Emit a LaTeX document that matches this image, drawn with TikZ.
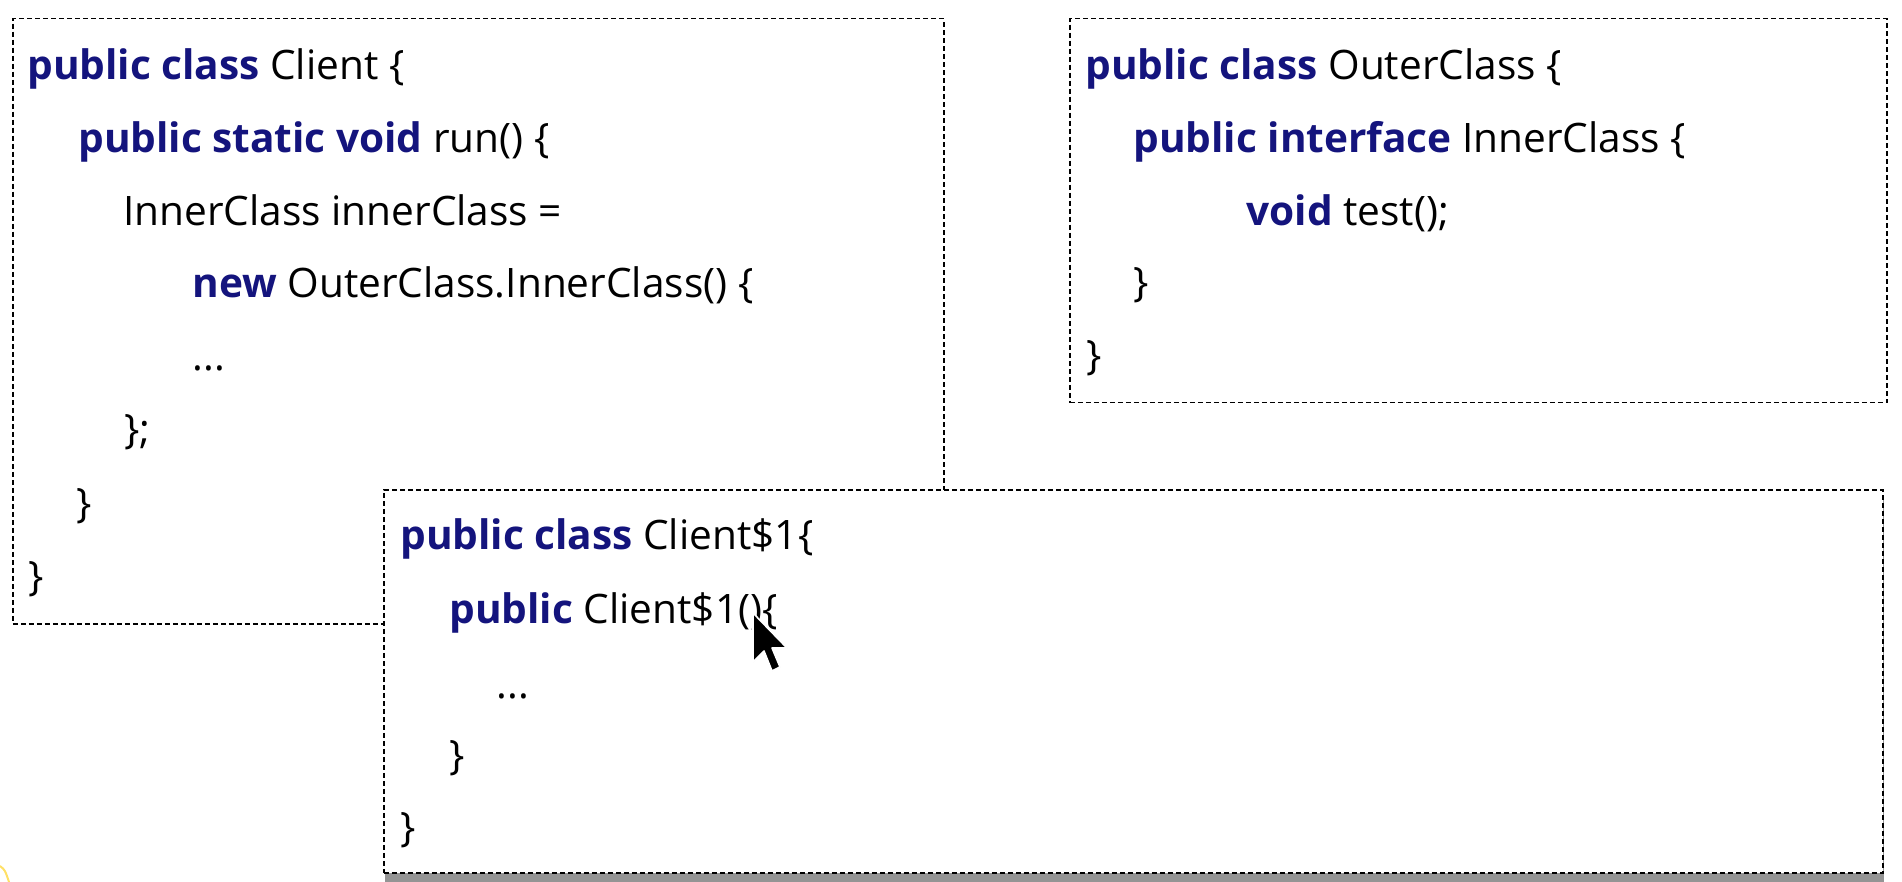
\documentclass[tikz,border=0pt]{standalone}
\usepackage{fontspec}
\setmainfont{Open Sans}
\usepackage{xcolor}
\usetikzlibrary{shadows,positioning}
\definecolor{kwblue}{RGB}{20,20,125}
\newcommand{\kw}[1]{\textbf{\color{kwblue}#1}}
\tikzset{code box/.style={draw,dashed,dash pattern=on 2.5pt off 1.5pt,line width=0.75pt,inner sep=0pt,anchor=north west},
         code line/.style={anchor=base west,inner sep=0pt,font=\fontsize{20.3}{22}\selectfont},
            }

\begin{document}
\begin{tikzpicture}[x=0.5pt,y=-0.5pt]
    \useasboundingbox (0,0) rectangle (1902,882);

    % client
    \node[code box,minimum width=465.5pt,minimum height=302.5pt] (client) at (12,18) {};
    \node[code line] (c1) at (27,80)  {\kw{public class} Client \{};
    \node[code line] (c2) at (78,153) {\kw{public static void} run() \{};
    \node[code line] (c3) at (123,226) {InnerClass innerClass =};
    \node[code line] (c4) at (192,298) {\kw{new} OuterClass.InnerClass() \{};
    \node[code line] (c5) at (192,371) {...};
    \node[code line] (c6) at (124,444) {\};};
    \node[code line] (c7) at (76,517) {\}};
    \node[code line] (c8) at (28,590) {\}};

    % outer class
    \node[code box,minimum width=408.5pt,minimum height=192pt] (outer) at (1069,18) {};
    \node[code line] (o1) at (1085,80)  {\kw{public class} OuterClass \{};
    \node[code line] (o2) at (1133,153) {\kw{public interface} InnerClass \{};
    \node[code line] (o3) at (1246,226) {\kw{void} test();};
    \node[code line] (o4) at (1133,297) {\}};
    \node[code line] (o5) at (1086,370) {\}};

    % generated class
    \node[code box,fill=white,minimum width=749.5pt,minimum height=191.5pt,
          drop shadow={shadow xshift=0.8pt,shadow yshift=-5pt,fill=black!42,opacity=1}] (anon) at (383,489) {};
    \node[code line] (a1) at (400,549) {\kw{public class} Client\$1\{};
    \node[code line] (a2) at (449,623) {\kw{public} Client\$1()\{};
    \node[code line] (a3) at (496,698) {...};
    \node[code line] (a4) at (449,769) {\}};
    \node[code line] (a5) at (400,841) {\}};

    % mouse pointer
    \draw[fill=black,draw=white,line width=0.8pt,line join=round]
        (753,613) -- (753,662) -- (764,651) -- (772,671) -- (780,667) -- (772,648) -- (787,648) -- cycle;

    \draw[orange!40!yellow,opacity=0.6,line width=1pt] (0,866) .. controls (5,870) .. (9,882);

\end{tikzpicture}
\end{document}
